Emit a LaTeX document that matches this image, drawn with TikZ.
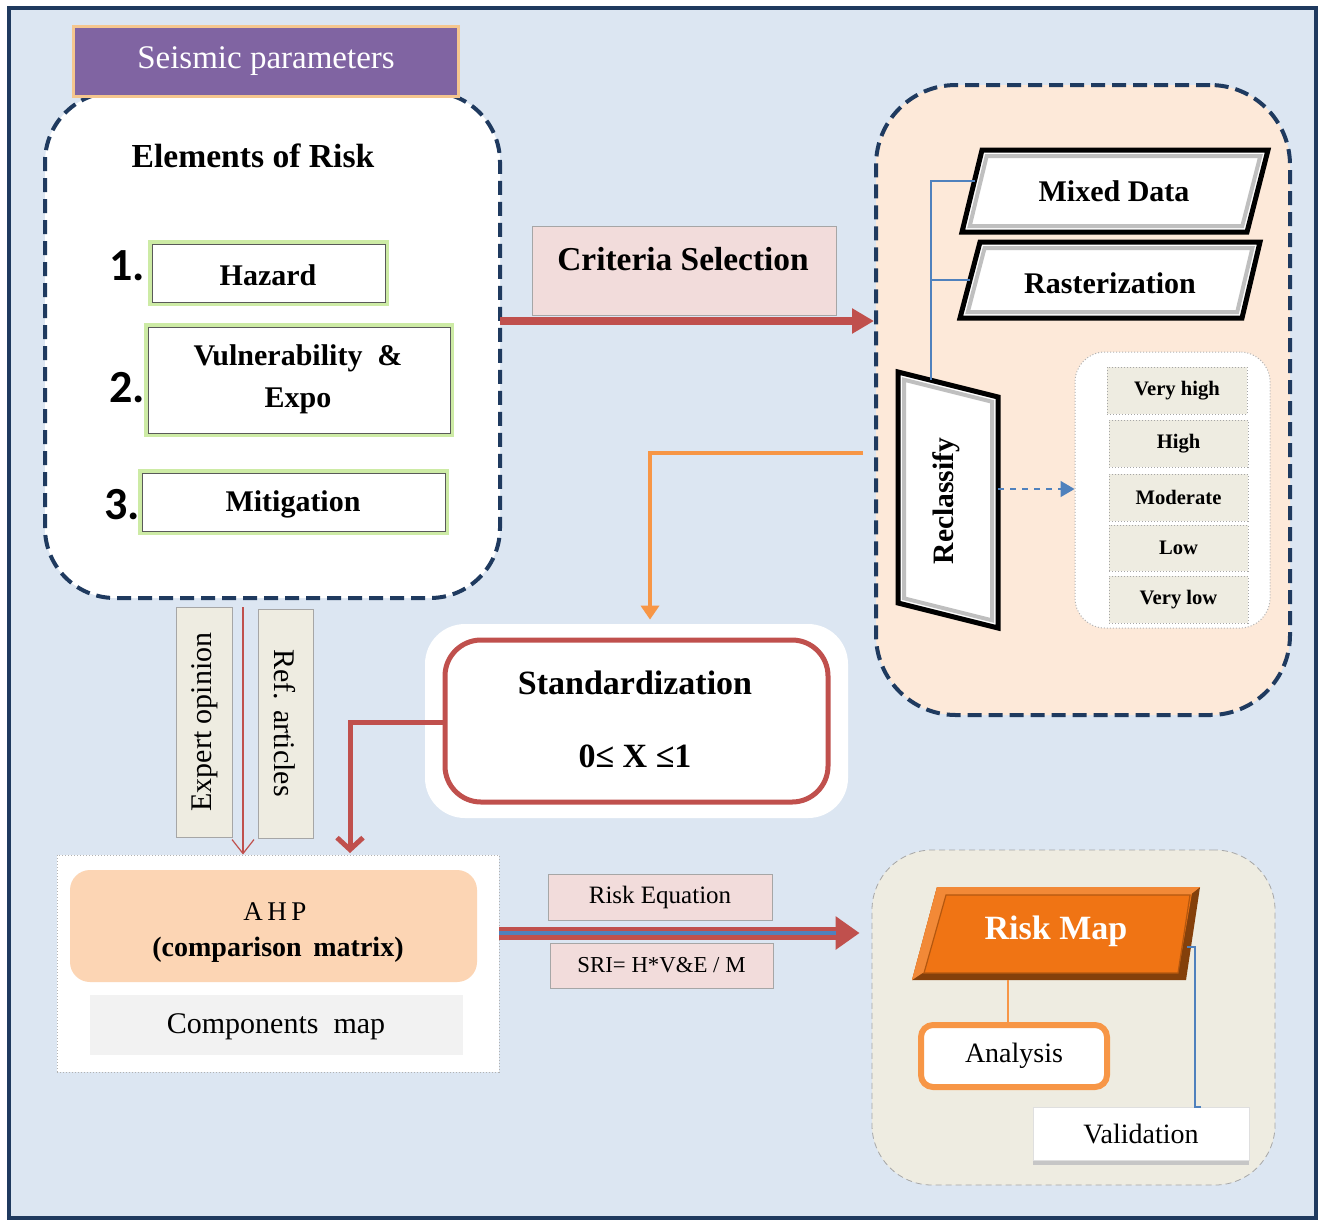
\documentclass[tikz,border=0pt]{standalone}
\usepackage{fontspec}
\setmainfont{Liberation Serif}
\newfontfamily\calib{Carlito}
\usetikzlibrary{arrows.meta,calc}
\definecolor{bgblue}{HTML}{DCE6F2}
\definecolor{navy}{HTML}{1F3A5F}
\definecolor{purp}{HTML}{8064A2}
\definecolor{glowor}{HTML}{F5C68E}
\definecolor{glowgr}{HTML}{CDEBA5}
\definecolor{peach}{HTML}{FDE9D9}
\definecolor{pinkb}{HTML}{F2DCDB}
\definecolor{redc}{HTML}{C0504D}
\definecolor{orangec}{HTML}{F79646}
\definecolor{blueline}{HTML}{4F81BD}
\definecolor{beige}{HTML}{EEECE1}
\definecolor{ahpc}{HTML}{FCD5B4}
\definecolor{riskor}{HTML}{F07414}
\tikzset{
  lbl/.style={inner sep=0pt, align=center},
  sz/.style 2 args={minimum width=#1*0.5pt, minimum height=#2*0.5pt, inner sep=0pt},
  navydash/.style={draw=navy, line width=2pt, dash pattern=on 7pt off 3.5pt},
  glowbox/.style={draw=gray!70!black, line width=0.5pt, fill=white, preaction={draw=glowgr, line width=4pt}},
  graybox/.style={draw=gray!70, line width=0.5pt},
  classbox/.style={fill=beige, draw=gray!70, densely dotted, line width=0.5pt},
  bevel/.style={draw=black, line width=2.5pt, fill=white, line join=miter},
  innerbevel/.style={draw=gray!50, line width=2pt, line join=miter},
  tb/.style={font=\fontsize{#1}{#1}\selectfont\bfseries},
  tr/.style={font=\fontsize{#1}{#1}\selectfont},
}
\begin{document}
\begin{tikzpicture}[x=0.5pt,y=-0.5pt]
\useasboundingbox (0,0) rectangle (1320,1222);
% frame
\fill[white] (0,0) rectangle (1320,1222);
\draw[draw=navy, line width=2pt, fill=bgblue] (9,8) rectangle (1316,1218);

% ---------- Elements of risk panel
\node[sz={455}{506}, navydash, fill=white, rounded corners=35pt] (elem) at (272.5,345) {};
\node[sz={382}{67}, fill=purp, preaction={draw=glowor, line width=3pt}] (seis) at (266,61.5) {};
\node[lbl, tr=16.5, text=white] (seist) at (266,61) {Seismic parameters};
\node[lbl, tb=16.8] (elt) at (253,156) {Elements of Risk};
\node[sz={233}{58}, glowbox] (haz) at (268.5,273) {};
\node[lbl, tb=15] (hazt) at (268,275) {Hazard};
\node[sz={302}{106}, glowbox] (vul) at (299,380) {};
\node[lbl, font=\fontsize{15}{21}\selectfont\bfseries] (vult) at (298,379) {Vulnerability\ \ \&\\Expo};
\node[sz={303}{58}, glowbox] (mit) at (293.5,502) {};
\node[lbl, tb=15] (mitt) at (293,504) {Mitigation};
\node[lbl, font=\fontsize{23}{23}\selectfont\calib\bfseries] (n1) at (127,266) {1.};
\node[lbl, font=\fontsize{23}{23}\selectfont\calib\bfseries] (n2) at (127,388) {2.};
\node[lbl, font=\fontsize{23}{23}\selectfont\calib\bfseries] (n3) at (122,505) {3.};

% ---------- criteria selection
\node[sz={304}{89}, fill=pinkb, graybox] (crit) at (684,270.5) {};
\node[lbl, tb=16.7] (critt) at (683,259) {Criteria Selection};

% ---------- right panel
\node[sz={414}{630}, navydash, fill=peach, rounded corners=40pt] (rp) at (1083,400) {};
\coordinate (a1) at (500,321);
\draw[redc, line width=4pt, -{Triangle[length=11pt,width=12pt]}] (a1) -- (rp.west |- a1);

% Mixed data
\draw[bevel] (982,150) -- (1268,150) -- (1247,232) -- (962,232) -- cycle;
\draw[innerbevel] (986.7,156) -- (1260.3,156) -- (1242.3,226) -- (969.7,226) -- cycle;
\node[lbl, tb=15] (md) at (1114,191) {Mixed Data};
% Rasterization
\draw[bevel] (980,242) -- (1260,242) -- (1242,318) -- (960,318) -- cycle;
\draw[innerbevel] (984.6,248) -- (1252.4,248) -- (1237.2,312) -- (967.8,312) -- cycle;
\node[lbl, tb=15] (ras) at (1110,283) {Rasterization};
% Reclassify
\draw[bevel] (898,372) -- (998,397) -- (998,628) -- (898,603) -- cycle;
\draw[innerbevel] (904,379.7) -- (992,401.7) -- (992,620.3) -- (904,598.3) -- cycle;
\node[lbl, tb=14.8, rotate=90] (rec) at (946,501) {Reclassify};
% blue tree
\coordinate (mdl) at (975,181);
\coordinate (rasl) at (970,280);
\coordinate (rect) at (931,380);
\draw[blueline, line width=0.7pt] (mdl) -- (931,181) -- (rect);
\draw[blueline, line width=0.7pt] (rasl) -- (931,280);

% classes
\node[sz={195}{276}, fill=white, draw=gray!60, densely dotted, line width=0.5pt, rounded corners=15pt] (cc) at (1172.5,490) {};
\node[sz={140}{47}, classbox] (c1) at (1177,390.5) {};
\node[sz={139}{47}, classbox] (c2) at (1178.5,443.5) {};
\node[sz={139}{47}, classbox] (c3) at (1178.5,497.5) {};
\node[sz={139}{46}, classbox] (c4) at (1178.5,548) {};
\node[sz={139}{47}, classbox] (c5) at (1178.5,599.5) {};
\node[lbl, tb=10.3] at (c1) {Very high};
\node[lbl, tb=10.3] at (c2) {High};
\node[lbl, tb=10.3] at (c3) {Moderate};
\node[lbl, tb=10.3] at (c4) {Low};
\node[lbl, tb=10.3] at (c5) {Very low};
\coordinate (recr) at (998,489);
\draw[blueline, line width=0.8pt, dashed, -{Triangle[length=7pt,width=8pt]}] (recr) -- (cc.west |- recr);

% ---------- standardization
\node[sz={423}{194}, fill=white, rounded corners=20pt] (stdo) at (636.5,721) {};
\node[sz={383}{162}, fill=white, draw=redc, line width=2.5pt, rounded corners=18pt] (std) at (636.5,721) {};
\node[lbl, tb=17] (stdt) at (635,683) {Standardization};
\node[lbl, tb=17] (stdf) at (635,756) {0≤ X ≤1};
\coordinate (orsrc) at (863,453);
\draw[orangec, line width=2pt, -{Triangle[length=7pt,width=9pt]}] (orsrc) -| ($(stdo.north)+(13.5,-4)$);

% ---------- expert / ref
\node[sz={56}{230}, fill=beige, graybox] (exp) at (204,722) {};
\node[lbl, tr=15, rotate=90] (expt) at (205,722) {Expert opinion};
\node[sz={55}{229}, fill=beige, graybox] (ref) at (285.5,723.5) {};
\node[lbl, tr=15, rotate=-90] (reft) at (285,723) {Ref. articles};

% ---------- AHP
\node[sz={442}{217}, fill=white, draw=gray!60, densely dotted, line width=0.5pt] (ahpbox) at (278,963.5) {};
\node[sz={407}{112}, fill=ahpc, rounded corners=10pt] (ahp) at (273.5,926) {};
\node[lbl, tr=13.5] (ahpt) at (275,912) {A\,H\,P};
\node[lbl, tb=14] (cmt) at (278,950) {(comparison\,\ matrix)};
\node[sz={373}{60}, fill=gray!10] (comp) at (276.5,1025) {};
\node[lbl, tr=15] (compt) at (276,1027) {Components\ \ map};

\coordinate (eo) at (243,607);
\draw[redc, line width=0.6pt, -{Straight Barb[length=7pt,width=11pt]}] (eo) -- (eo |- ahpbox.north);
\coordinate (stl) at (445,722);
\draw[redc, line width=2.5pt, -{Straight Barb[length=6pt,width=13pt]}] (stl) -- (350,722) -- (350,853);

% ---------- risk equation arrow
\node[sz={403}{335}, fill=beige, draw=gray!70, densely dashed, line width=0.4pt, rounded corners=30pt] (rmc) at (1073.5,1017.5) {};
\coordinate (a2) at (499,933);
\draw[redc, line width=6.5pt, shorten >=6pt, -{Triangle[length=12pt,width=16pt]}] (a2) -- (rmc.west |- a2);
\draw[blueline, line width=1.8pt] (a2) -- (836,933);
\node[sz={224}{46}, fill=pinkb, graybox] (req) at (660,897) {};
\node[lbl, tr=12.5] at (req) {Risk Equation};
\node[sz={223}{45}, fill=pinkb, graybox] (sri) at (661.5,965.5) {};
\node[lbl, tr=11.4] at (sri) {SRI= H*V\&E / M};

% ---------- risk map
\fill[riskor!55!black] (937,887) -- (1200,887) -- (1186,980) -- (912,980) -- cycle;
\fill[riskor] (937,887) -- (1200,887) -- (1192,893) -- (1178,973) -- (920,973) -- (912,980) -- cycle;
\fill[riskor!85!white] (937,887) -- (1200,887) -- (1190,895) -- (946,895) -- (924,972) -- (912,980) -- cycle;
\draw[riskor!75!black, line width=0.6pt] (946,895) -- (1190,895) -- (1178,973) -- (924,973) -- cycle;
\node[lbl, tb=17, text=white] (rm) at (1056,931) {Risk Map};
\node[sz={186}{62}, fill=white, draw=orangec, line width=3pt, rounded corners=6pt] (ana) at (1014,1056) {};
\node[lbl, tr=14] at (ana) {Analysis};
\coordinate (rmb) at (1008,980);
\draw[orangec, line width=0.6pt] (rmb) -- (rmb |- ana.north);
\node[sz={216}{53}, fill=white, draw=gray!25, line width=0.5pt, preaction={fill=gray!45, transform canvas={yshift=-2.5pt}}] (val) at (1141,1133.5) {};
\node[lbl, tr=14] at (val) {Validation};
\coordinate (rmr) at (1187,947);
\draw[blueline, line width=0.7pt] (rmr) -- (1195,947) -- (1195,1107) -- (1201,1107);
\end{tikzpicture}
\end{document}
